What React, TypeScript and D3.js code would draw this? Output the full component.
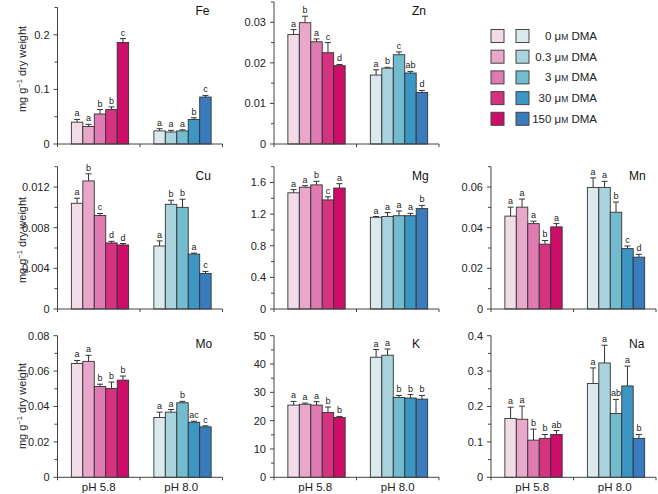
import React from 'react';
import * as d3 from 'd3';

const groups = ['pH 5.8', 'pH 8.0'];
const levels = ['0', '0.3', '3', '30', '150'];
const legendLabels = ['0', '0.3', '3', '30', '150'];
const pinkColors = ['#f2dce7', '#e9a8ca', '#df7bb0', '#d5337f', '#cd0e68'];
const blueColors = ['#dce9ec', '#a9d4de', '#73bccf', '#3c96c4', '#3a7bbd'];

// Fe
const feMeans = [[0.040, 0.032, 0.055, 0.063, 0.186], [0.024, 0.022, 0.024, 0.045, 0.086]];
const feErrs = [[0.005, 0.004, 0.008, 0.005, 0.007], [0.004, 0.003, 0.002, 0.003, 0.003]];
const feLetters = [['a', 'a', 'b', 'b', 'c'], ['a', 'a', 'a', 'b', 'c']];
const feTicks = [0, 0.1, 0.2];
// Zn
const znMeans = [[0.0270, 0.0299, 0.0252, 0.0225, 0.0193], [0.0170, 0.0187, 0.0220, 0.0175, 0.0127]];
const znErrs = [[0.0012, 0.0016, 0.0007, 0.0025, 0.0003], [0.0013, 0.0002, 0.0007, 0.0004, 0.0005]];
const znLetters = [['a', 'b', 'a', 'c', 'd'], ['a', 'b', 'c', 'ab', 'd']];
const znTicks = [0, 0.01, 0.02, 0.03];
// Cu
const cuMeans = [[0.0104, 0.0126, 0.0092, 0.0065, 0.0063], [0.0062, 0.0103, 0.0100, 0.0054, 0.0035]];
const cuErrs = [[0.0005, 0.0007, 0.0002, 0.00016, 0.00014], [0.0005, 0.0004, 0.0008, 0.0001, 0.0002]];
const cuLetters = [['a', 'b', 'c', 'd', 'd'], ['a', 'b', 'b', 'a', 'c']];
const cuTicks = [0, 0.004, 0.008, 0.012];
// Mg
const mgMeans = [[1.47, 1.54, 1.57, 1.38, 1.53], [1.16, 1.17, 1.18, 1.18, 1.27]];
const mgErrs = [[0.04, 0.02, 0.045, 0.04, 0.055], [0.01, 0.05, 0.06, 0.03, 0.04]];
const mgLetters = [['a', 'a', 'b', 'c', 'a'], ['a', 'a', 'a', 'a', 'b']];
const mgTicks = [0, 0.4, 0.8, 1.2, 1.6];
// Mn
const mnMeans = [[0.0457, 0.0501, 0.0420, 0.0319, 0.0404], [0.0598, 0.0598, 0.0476, 0.0297, 0.0255]];
const mnErrs = [[0.0044, 0.0040, 0.0012, 0.0018, 0.0016], [0.0047, 0.0030, 0.0050, 0.0013, 0.0014]];
const mnLetters = [['a', 'a', 'a', 'b', 'a'], ['a', 'a', 'b', 'c', 'd']];
const mnTicks = [0, 0.02, 0.04, 0.06];
// Mo
const moMeans = [[0.0643, 0.0655, 0.0513, 0.0502, 0.0549], [0.0338, 0.0368, 0.0421, 0.0311, 0.0285]];
const moErrs = [[0.0017, 0.0034, 0.0013, 0.0036, 0.0023], [0.0030, 0.0015, 0.0008, 0.0006, 0.0006]];
const moLetters = [['a', 'a', 'b', 'b', 'b'], ['a', 'a', 'b', 'ac', 'c']];
const moTicks = [0, 0.02, 0.04, 0.06, 0.08];
// K
const kMeans = [[25.5, 25.8, 25.5, 22.9, 21.1], [42.4, 43.1, 28.2, 28.0, 27.6]];
const kErrs = [[1.3, 0.4, 1.2, 1.9, 0.4], [2.7, 2.2, 0.7, 1.2, 1.3]];
const kLetters = [['a', 'a', 'a', 'b', 'b'], ['a', 'a', 'b', 'b', 'b']];
const kTicks = [0, 10, 20, 30, 40, 50];
// Na
const naMeans = [[0.166, 0.164, 0.105, 0.110, 0.121], [0.265, 0.323, 0.180, 0.258, 0.110]];
const naErrs = [[0.032, 0.037, 0.031, 0.011, 0.011], [0.044, 0.050, 0.040, 0.056, 0.011]];
const naLetters = [['a', 'a', 'b', 'b', 'ab'], ['a', 'a', 'ab', 'a', 'b']];
const naTicks = [0, 0.1, 0.2, 0.3, 0.4];

const FONT = 'Liberation Sans, Arial, Helvetica, sans-serif';
const AXIS = '#444';
const PANEL_W = 165;

type PanelDef = {
  name: string; means: number[][]; errs: number[][]; letters: string[][];
  ticks: number[]; minor: number; max: number;
  x0: number; y0: number; top: number; ylabel?: number; xlabels?: boolean;
};

const colX = [57.5, 274, 491];
const rowY0 = [144, 309, 477.3];

const panels: PanelDef[] = [
  { name: 'Fe', means: feMeans, errs: feErrs, letters: feLetters, ticks: feTicks, minor: 0.05, max: 0.25, x0: colX[0], y0: rowY0[0], top: 7.5, ylabel: 69 },
  { name: 'Zn', means: znMeans, errs: znErrs, letters: znLetters, ticks: znTicks, minor: 0.005, max: 0.035, x0: colX[1], y0: rowY0[0], top: 2 },
  { name: 'Cu', means: cuMeans, errs: cuErrs, letters: cuLetters, ticks: cuTicks, minor: 0.002, max: 0.014, x0: colX[0], y0: rowY0[1], top: 166.7, ylabel: 240 },
  { name: 'Mg', means: mgMeans, errs: mgErrs, letters: mgLetters, ticks: mgTicks, minor: 0.2, max: 1.8, x0: colX[1], y0: rowY0[1], top: 166.7 },
  { name: 'Mn', means: mnMeans, errs: mnErrs, letters: mnLetters, ticks: mnTicks, minor: 0.01, max: 0.07, x0: colX[2], y0: rowY0[1], top: 166.7 },
  { name: 'Mo', means: moMeans, errs: moErrs, letters: moLetters, ticks: moTicks, minor: 0.01, max: 0.08, x0: colX[0], y0: rowY0[2], top: 335.7, ylabel: 406, xlabels: true },
  { name: 'K', means: kMeans, errs: kErrs, letters: kLetters, ticks: kTicks, minor: 5, max: 50, x0: colX[1], y0: rowY0[2], top: 335.7, xlabels: true },
  { name: 'Na', means: naMeans, errs: naErrs, letters: naLetters, ticks: naTicks, minor: 0.05, max: 0.4, x0: colX[2], y0: rowY0[2], top: 335.7, xlabels: true },
];

const fmt = (v: number) => (v === 0 ? '0' : String(+v.toFixed(6)));

function Panel({ p }: { p: PanelDef }) {
  const y = d3.scaleLinear().domain([0, p.max]).range([p.y0, p.top]);
  const x = d3.scaleBand<string>().domain(groups).range([p.x0, p.x0 + PANEL_W]);
  const xi = d3.scaleBand<string>().domain(levels).range([0, x.bandwidth()]).paddingInner(0).paddingOuter(1.1).align(0.55);
  const minorTicks = d3.range(0, p.max + p.minor / 2, p.minor).filter(v => !p.ticks.some(t => Math.abs(t - v) < p.minor / 10));
  const bw = xi.bandwidth();
  return (
    <g>
      {groups.map((g, gi) => (
        <g key={g}>
          {levels.map((l, li) => {
            const m = p.means[gi][li];
            const e = p.errs[gi][li];
            const bx = (x(g) as number) + (xi(l) as number);
            const cx = bx + bw / 2;
            const col = gi === 0 ? pinkColors[li] : blueColors[li];
            return (
              <g key={l}>
                <line x1={cx} x2={cx} y1={y(m)} y2={y(m + e)} stroke="#333" strokeWidth={1} />
                <line x1={cx - 3} x2={cx + 3} y1={y(m + e)} y2={y(m + e)} stroke="#333" strokeWidth={1} />
                <rect x={bx} y={y(m)} width={bw} height={p.y0 - y(m)} fill={col} stroke="#333" strokeWidth={0.9} />
                <text x={cx} y={y(m + e) - 3} textAnchor="middle" fontSize={9} fill="#222">{p.letters[gi][li]}</text>
              </g>
            );
          })}
          {p.xlabels && (
            <text x={(x(g) as number) + x.bandwidth() / 2} y={491} textAnchor="middle" fontSize={11.5} fill="#222">{g}</text>
          )}
        </g>
      ))}
      {/* y axis */}
      <line x1={p.x0} x2={p.x0} y1={p.y0} y2={p.top} stroke={AXIS} strokeWidth={1} />
      {minorTicks.map(v => (
        <line key={'m' + v} x1={p.x0 - 3} x2={p.x0} y1={y(v)} y2={y(v)} stroke={AXIS} strokeWidth={1} />
      ))}
      {p.ticks.map(v => (
        <g key={'t' + v}>
          <line x1={p.x0 - 4} x2={p.x0} y1={y(v)} y2={y(v)} stroke={AXIS} strokeWidth={1} />
          <text x={p.x0 - 8} y={y(v)} dy="0.35em" textAnchor="end" fontSize={11} fill="#222">{fmt(v)}</text>
        </g>
      ))}
      {/* x axis */}
      <line x1={p.x0} x2={p.x0 + PANEL_W} y1={p.y0} y2={p.y0} stroke={AXIS} strokeWidth={1} />
      {[0, 1, 2].map(i => {
        const xx = i < 2 ? (x(groups[i]) as number) + (i === 1 ? 0 : 0) : p.x0 + PANEL_W;
        const pos = i === 0 ? p.x0 : xx;
        return <line key={'x' + i} x1={pos} x2={pos} y1={p.y0} y2={p.y0 + 3} stroke={AXIS} strokeWidth={1} />;
      })}
      <text x={p.x0 + 138} y={p.y0 - 129} fontSize={12} fill="#111">{p.name}</text>
      {p.ylabel !== undefined && (
        <text transform={`translate(26,${p.ylabel}) rotate(-90)`} textAnchor="middle" fontSize={11} fill="#222">
          mg g<tspan fontSize={7.5} dy={-4}>−1</tspan><tspan dy={4}> dry weight</tspan>
        </text>
      )}
    </g>
  );
}

function Legend() {
  return (
    <g>
      {legendLabels.map((lab, i) => {
        const cy = 36 + i * 20.7;
        return (
          <g key={lab}>
            <rect x={491} y={cy - 6.5} width={13} height={13} fill={pinkColors[i]} stroke="#444" strokeWidth={1} />
            <rect x={516} y={cy - 6.5} width={13} height={13} fill={blueColors[i]} stroke="#444" strokeWidth={1} />
            <text x={597} y={cy} dy="0.35em" textAnchor="end" fontSize={11.5} fill="#222">
              {lab} μ<tspan fontSize={8.5}>M</tspan> DMA
            </text>
          </g>
        );
      })}
    </g>
  );
}

export default function App() {
  return (
    <svg width={658} height={494} style={{ position: 'absolute', left: 0, top: 0, background: '#fff' }} fontFamily={FONT}>
      <rect width={658} height={494} fill="#fff" />
      {panels.map(p => <Panel key={p.name} p={p} />)}
      <Legend />
    </svg>
  );
}
